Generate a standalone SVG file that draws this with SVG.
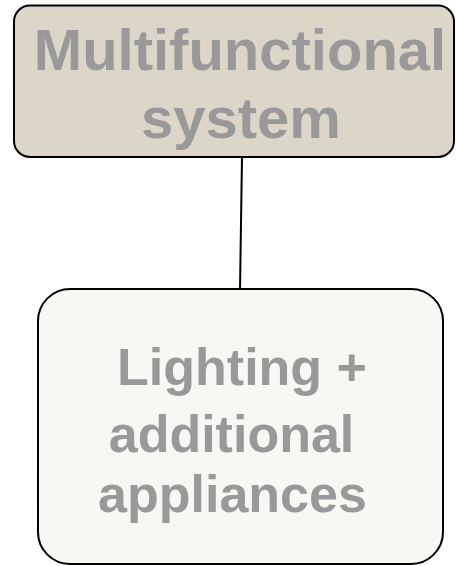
<svg xmlns="http://www.w3.org/2000/svg" width="456" height="566" viewBox="0 0 456 566">
<style>
.box{stroke:#000;stroke-width:2}
.lbl{font-family:"Liberation Sans",Arial,sans-serif;font-weight:bold;fill:#999999;text-anchor:middle}
</style>
<rect width="456" height="566" fill="#ffffff"/>
<g id="connectors">
<line x1="242" y1="157" x2="240" y2="290" stroke="#000" stroke-width="2"/>
</g>
<g id="node-multifunctional">
<rect class="box" x="14" y="5.5" width="440" height="151.5" rx="16" fill="#dbd6c7"/>
<text class="lbl" font-size="58"><tspan x="240" y="70">Multifunctional</tspan><tspan x="241" y="138">system</tspan></text>
</g>
<g id="node-lighting">
<rect class="box" x="38" y="289" width="405" height="275" rx="32" fill="#f8f7f3"/>
<text class="lbl" font-size="52"><tspan x="242" y="385">Lighting +</tspan><tspan x="231.5" y="452">additional</tspan><tspan x="232.5" y="512">appliances</tspan></text>
</g>
</svg>
